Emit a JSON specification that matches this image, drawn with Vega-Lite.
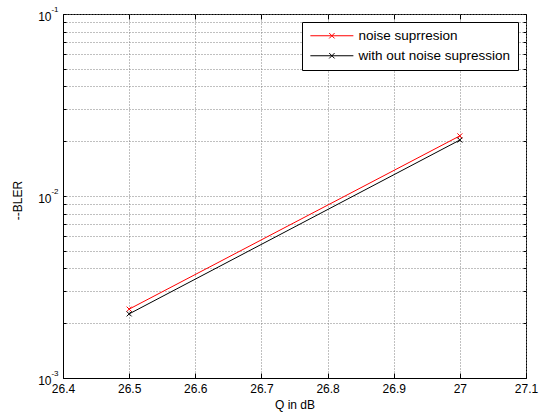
{
  "$schema": "https://vega.github.io/schema/vega-lite/v6.json",
  "width": 463,
  "height": 364,
  "autosize": {"type": "none"},
  "padding": {"left": 63, "top": 14, "right": 20, "bottom": 40},
  "background": "white",
  "config": {
    "font": "Liberation Sans",
    "view": {"stroke": "black", "strokeWidth": 1},
    "axis": {
      "labelFont": "Liberation Sans",
      "titleFont": "Liberation Sans",
      "labelFontSize": 12,
      "titleFontSize": 12,
      "titleFontWeight": "normal",
      "labelColor": "black",
      "titleColor": "black",
      "domainColor": "black",
      "tickColor": "black",
      "gridColor": "#808080",
      "gridDash": [1, 2],
      "gridOpacity": 1,
      "labelOverlap": false,
      "labelFlush": false
    },
    "legend": {
      "labelFont": "Liberation Sans",
      "labelFontSize": 13.5,
      "labelColor": "black"
    }
  },
  "data": {
    "values": [
      {"q": 26.5, "bler": 0.00239, "series": "noise suprresion"},
      {"q": 27.0, "bler": 0.0214, "series": "noise suprresion"},
      {"q": 26.5, "bler": 0.00225, "series": "with out noise supression"},
      {"q": 27.0, "bler": 0.0203, "series": "with out noise supression"}
    ]
  },
  "resolve": {"axis": {"x": "independent", "y": "independent"}},
  "layer": [
    {
      "mark": {"type": "line", "strokeWidth": 1},
      "encoding": {
        "x": {
          "field": "q", "type": "quantitative",
          "scale": {"domain": [26.4, 27.1], "nice": false, "zero": false},
          "axis": {
            "orient": "bottom",
            "values": [26.4, 26.5, 26.6, 26.7, 26.8, 26.9, 27.0, 27.1],
            "labelExpr": "format(datum.value, '.1~f')",
            "grid": true,
            "tickSize": -5,
            "labelPadding": 10,
            "title": "Q in dB",
            "titlePadding": 5
          }
        },
        "y": {
          "field": "bler", "type": "quantitative",
          "scale": {"type": "log", "domain": [0.001, 0.1], "nice": false},
          "axis": {
            "orient": "left",
            "values": [0.001, 0.002, 0.003, 0.004, 0.005, 0.006, 0.007, 0.008, 0.009, 0.01, 0.02, 0.03, 0.04, 0.05, 0.06, 0.07, 0.08, 0.09, 0.1],
            "labelExpr": "(datum.value == 0.1 || datum.value == 0.01 || datum.value == 0.001) ? '10' : ''",
            "grid": true,
            "ticks": false,
            "labelPadding": 12,
            "labelOffset": 2,
            "title": "--BLER",
            "titleX": -46,
            "titleY": 186,
            "titleAlign": "center",
            "titleBaseline": "middle",
            "titleAngle": -90
          }
        },
        "color": {
          "field": "series", "type": "nominal",
          "scale": {"domain": ["noise suprresion", "with out noise supression"], "range": ["#ff0000", "#000000"]},
          "legend": {
            "title": null,
            "orient": "none",
            "legendX": 239,
            "legendY": 8,
            "strokeColor": "black",
            "fillColor": "white",
            "padding": 7,
            "symbolType": "M-1,0H7M2.5,-0.5L3.5,0.5M2.5,0.5L3.5,-0.5",
            "symbolSize": 115.6,
            "symbolStrokeWidth": 1,
            "symbolFillColor": "transparent",
            "rowPadding": 5,
            "labelOffset": 36
          }
        }
      }
    },
    {
      "mark": {"type": "point", "shape": "M-1,-1L1,1M-1,1L1,-1", "size": 25, "filled": false, "strokeWidth": 1, "opacity": 1},
      "encoding": {
        "x": {
          "field": "q", "type": "quantitative",
          "axis": {
            "orient": "top",
            "values": [26.4, 26.5, 26.6, 26.7, 26.8, 26.9, 27.0, 27.1],
            "labels": false,
            "grid": false,
            "domain": false,
            "tickSize": -5,
            "title": null
          }
        },
        "y": {
          "field": "bler", "type": "quantitative",
          "axis": {
            "orient": "left",
            "values": [0.001, 0.01, 0.1],
            "labelExpr": "datum.value == 0.1 ? '-1' : (datum.value == 0.01 ? '-2' : '-3')",
            "labelFontSize": 8,
            "grid": false,
            "ticks": false,
            "domain": false,
            "labelPadding": 5,
            "labelOffset": -5,
            "title": null
          }
        },
        "color": {"field": "series", "type": "nominal", "legend": null}
      }
    },
    {
      "mark": {"type": "point", "opacity": 0},
      "encoding": {
        "x": {"field": "q", "type": "quantitative", "axis": null},
        "y": {
          "field": "bler", "type": "quantitative",
          "axis": {
            "orient": "right",
            "values": [0.001, 0.002, 0.003, 0.004, 0.005, 0.006, 0.007, 0.008, 0.009, 0.01, 0.02, 0.03, 0.04, 0.05, 0.06, 0.07, 0.08, 0.09, 0.1],
            "labels": false,
            "grid": false,
            "domain": false,
            "tickSize": -3,
            "title": null
          }
        }
      }
    },
    {
      "mark": {"type": "point", "opacity": 0},
      "encoding": {
        "x": {"field": "q", "type": "quantitative", "axis": null},
        "y": {
          "field": "bler", "type": "quantitative",
          "axis": {
            "orient": "left",
            "values": [0.001, 0.002, 0.003, 0.004, 0.005, 0.006, 0.007, 0.008, 0.009, 0.01, 0.02, 0.03, 0.04, 0.05, 0.06, 0.07, 0.08, 0.09, 0.1],
            "labels": false,
            "grid": false,
            "domain": false,
            "tickSize": -3,
            "title": null
          }
        }
      }
    }
  ]
}
